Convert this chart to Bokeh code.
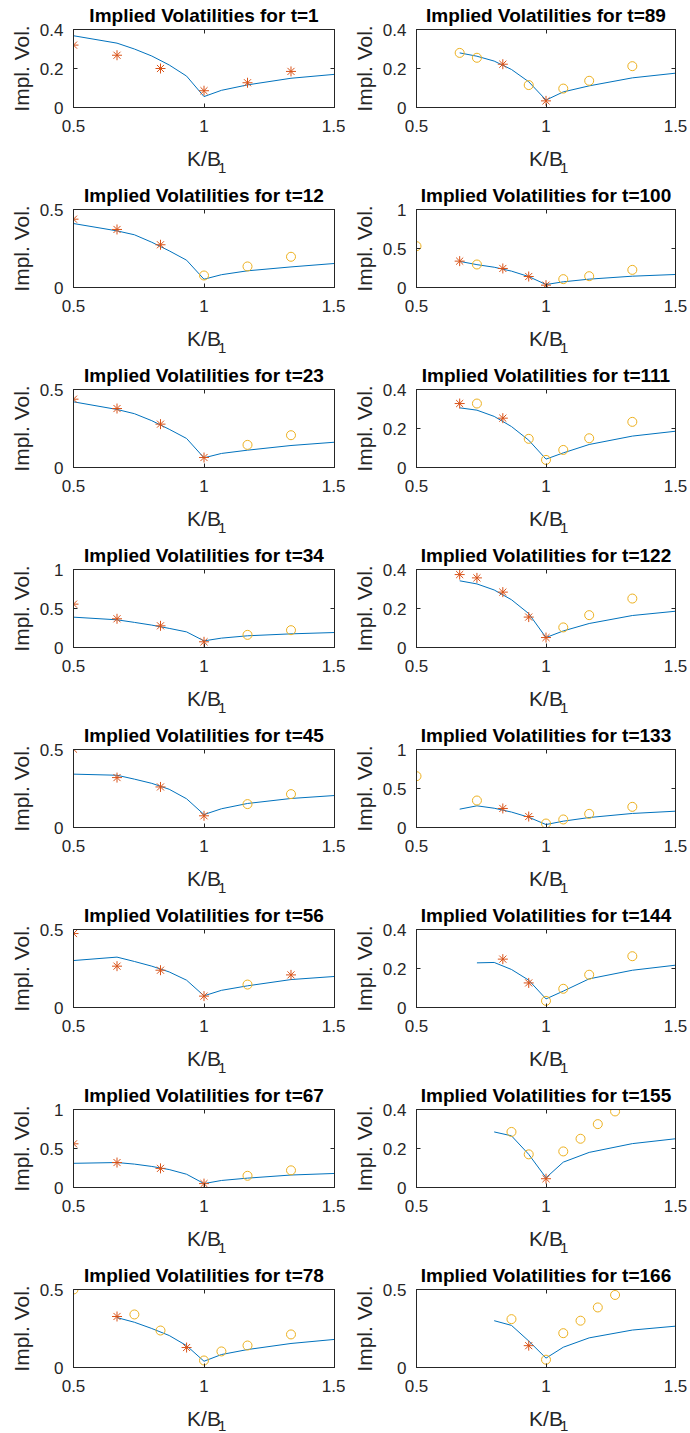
import numpy as np
from bokeh.plotting import figure
from bokeh.layouts import gridplot
from bokeh.models import FixedTicker, LinearAxis, Range1d, CustomJSTickFormatter, Title
from bokeh.embed import file_html
from bokeh.resources import INLINE

BLUE = "#0072BD"
ORANGE = "#D95319"
YELLOW = "#EDB120"
AXC = "#262626"
FONT = "Liberation Sans"

# model curve grid (K/B_1)
LX = [0.5, 0.6667, 0.7333, 0.8, 0.8667, 0.9333, 1.0, 1.0667, 1.1667, 1.3333, 1.5]
N = None

# ---- left column ----
t1_line = [0.368, 0.330, 0.300, 0.264, 0.218, 0.161, 0.056, 0.088, 0.116, 0.150, 0.170]
t1_star_x = [0.5, 0.6667, 0.8333, 1.0, 1.1667, 1.3333]
t1_star_y = [0.320, 0.268, 0.200, 0.086, 0.127, 0.185]
t1_circ_x = []
t1_circ_y = []

t12_line = [0.410, 0.363, 0.338, 0.290, 0.235, 0.175, 0.053, 0.082, 0.107, 0.132, 0.154]
t12_star_x = [0.5, 0.6667, 0.8333]
t12_star_y = [0.438, 0.372, 0.274]
t12_circ_x = [1.0, 1.1667, 1.3333]
t12_circ_y = [0.077, 0.135, 0.197]

t23_line = [0.421, 0.372, 0.345, 0.300, 0.245, 0.186, 0.062, 0.090, 0.111, 0.141, 0.162]
t23_star_x = [0.5, 0.6667, 0.8333, 1.0]
t23_star_y = [0.438, 0.378, 0.278, 0.064]
t23_circ_x = [1.1667, 1.3333]
t23_circ_y = [0.145, 0.207]

t34_line = [0.389, 0.355, 0.322, 0.287, 0.245, 0.200, 0.085, 0.120, 0.150, 0.175, 0.192]
t34_star_x = [0.5, 0.6667, 0.8333, 1.0]
t34_star_y = [0.556, 0.368, 0.278, 0.073]
t34_circ_x = [1.1667, 1.3333]
t34_circ_y = [0.162, 0.222]

t45_line = [0.342, 0.335, 0.310, 0.283, 0.245, 0.184, 0.083, 0.120, 0.154, 0.186, 0.205]
t45_star_x = [0.5, 0.6667, 0.8333, 1.0]
t45_star_y = [0.502, 0.320, 0.260, 0.075]
t45_circ_x = [1.1667, 1.3333]
t45_circ_y = [0.150, 0.214]

t56_line = [0.301, 0.323, 0.295, 0.265, 0.228, 0.175, 0.075, 0.110, 0.139, 0.179, 0.199]
t56_star_x = [0.5, 0.6667, 0.8333, 1.0, 1.3333]
t56_star_y = [0.474, 0.265, 0.239, 0.073, 0.209]
t56_circ_x = [1.1667]
t56_circ_y = [0.147]

t67_line = [0.310, 0.320, 0.300, 0.270, 0.230, 0.170, 0.050, 0.090, 0.120, 0.160, 0.180]
t67_star_x = [0.5, 0.6667, 0.8333, 1.0]
t67_star_y = [0.560, 0.320, 0.245, 0.050]
t67_circ_x = [1.1667, 1.3333]
t67_circ_y = [0.150, 0.220]

t78_line = [N, 0.320, 0.290, 0.250, 0.205, 0.140, 0.040, 0.083, 0.115, 0.154, 0.180]
t78_star_x = [0.6667, 0.9333]
t78_star_y = [0.327, 0.128]
t78_circ_x = [0.5, 0.7333, 0.8333, 1.0, 1.0667, 1.1667, 1.3333]
t78_circ_y = [0.500, 0.340, 0.237, 0.045, 0.103, 0.141, 0.212]

# ---- right column ----
t89_line = [N, 0.280, 0.263, 0.238, 0.195, 0.132, 0.038, 0.080, 0.111, 0.152, 0.176]
t89_star_x = [0.8333, 1.0]
t89_star_y = [0.222, 0.034]
t89_circ_x = [0.6667, 0.7333, 0.9333, 1.0667, 1.1667, 1.3333]
t89_circ_y = [0.280, 0.255, 0.115, 0.097, 0.137, 0.212]

t100_line = [N, 0.335, 0.293, 0.260, 0.210, 0.140, 0.038, 0.073, 0.107, 0.145, 0.167]
t100_star_x = [0.6667, 0.8333, 0.9333, 1.0]
t100_star_y = [0.338, 0.244, 0.141, 0.030]
t100_circ_x = [0.5, 0.7333, 1.0667, 1.1667, 1.3333]
t100_circ_y = [0.530, 0.295, 0.107, 0.145, 0.226]

t111_line = [N, 0.306, 0.294, 0.262, 0.210, 0.140, 0.043, 0.075, 0.118, 0.161, 0.186]
t111_star_x = [0.6667, 0.8333]
t111_star_y = [0.328, 0.253]
t111_circ_x = [0.7333, 0.9333, 1.0, 1.0667, 1.1667, 1.3333]
t111_circ_y = [0.328, 0.147, 0.039, 0.090, 0.150, 0.234]

t122_line = [N, 0.342, 0.326, 0.295, 0.245, 0.174, 0.051, 0.085, 0.123, 0.164, 0.186]
t122_star_x = [0.6667, 0.7333, 0.8333, 0.9333, 1.0]
t122_star_y = [0.374, 0.357, 0.284, 0.156, 0.051]
t122_circ_x = [1.0667, 1.1667, 1.3333]
t122_circ_y = [0.103, 0.166, 0.251]

t133_line = [N, 0.235, 0.278, 0.247, 0.198, 0.132, 0.038, 0.081, 0.128, 0.180, 0.209]
t133_star_x = [0.8333, 0.9333]
t133_star_y = [0.244, 0.141]
t133_circ_x = [0.5, 0.7333, 1.0, 1.0667, 1.1667, 1.3333]
t133_circ_y = [0.658, 0.346, 0.051, 0.103, 0.175, 0.265]

t144_line = [N, N, 0.229, 0.231, 0.195, 0.140, 0.044, 0.084, 0.147, 0.191, 0.217]
t144_star_x = [0.8333, 0.9333]
t144_star_y = [0.248, 0.126]
t144_circ_x = [1.0, 1.0667, 1.1667, 1.3333]
t144_circ_y = [0.034, 0.096, 0.168, 0.263]

t155_line = [N, N, N, 0.285, 0.265, 0.170, 0.050, 0.130, 0.180, 0.225, 0.250]
t155_star_x = [1.0]
t155_star_y = [0.045]
t155_circ_x = [0.8667, 0.9333, 1.0667, 1.1333, 1.2, 1.2667]
t155_circ_y = [0.285, 0.170, 0.185, 0.250, 0.325, 0.390]

t166_line = [N, N, N, 0.300, 0.270, 0.170, 0.060, 0.130, 0.190, 0.240, 0.265]
t166_star_x = [0.9333]
t166_star_y = [0.140]
t166_circ_x = [0.8667, 1.0, 1.0667, 1.1333, 1.2, 1.2667]
t166_circ_y = [0.310, 0.050, 0.220, 0.300, 0.385, 0.465]

T_ORDER = [1, 89, 12, 100, 23, 111, 34, 122, 45, 133, 56, 144, 67, 155, 78, 166]
Y_MAX = {1: 0.4, 89: 0.4, 12: 0.5, 100: 1.0, 23: 0.5, 111: 0.4, 34: 1.0, 122: 0.4,
         45: 0.5, 133: 1.0, 56: 0.5, 144: 0.4, 67: 1.0, 155: 0.4, 78: 0.5, 166: 0.5}
Y_TICKS = {0.4: [0, 0.2, 0.4], 0.5: [0, 0.5], 1.0: [0, 0.5, 1]}
X_TICKS = [0.5, 1, 1.5]

DATA = {
    1: (t1_line, t1_star_x, t1_star_y, t1_circ_x, t1_circ_y),
    12: (t12_line, t12_star_x, t12_star_y, t12_circ_x, t12_circ_y),
    23: (t23_line, t23_star_x, t23_star_y, t23_circ_x, t23_circ_y),
    34: (t34_line, t34_star_x, t34_star_y, t34_circ_x, t34_circ_y),
    45: (t45_line, t45_star_x, t45_star_y, t45_circ_x, t45_circ_y),
    56: (t56_line, t56_star_x, t56_star_y, t56_circ_x, t56_circ_y),
    67: (t67_line, t67_star_x, t67_star_y, t67_circ_x, t67_circ_y),
    78: (t78_line, t78_star_x, t78_star_y, t78_circ_x, t78_circ_y),
    89: (t89_line, t89_star_x, t89_star_y, t89_circ_x, t89_circ_y),
    100: (t100_line, t100_star_x, t100_star_y, t100_circ_x, t100_circ_y),
    111: (t111_line, t111_star_x, t111_star_y, t111_circ_x, t111_circ_y),
    122: (t122_line, t122_star_x, t122_star_y, t122_circ_x, t122_circ_y),
    133: (t133_line, t133_star_x, t133_star_y, t133_circ_x, t133_circ_y),
    144: (t144_line, t144_star_x, t144_star_y, t144_circ_x, t144_circ_y),
    155: (t155_line, t155_star_x, t155_star_y, t155_circ_x, t155_circ_y),
    166: (t166_line, t166_star_x, t166_star_y, t166_circ_x, t166_circ_y),
}

FMT = "return String(tick)"


def style_axis(ax, labels=True):
    ax.major_tick_in = 4
    ax.major_tick_out = 0
    ax.minor_tick_line_color = None
    ax.axis_line_color = AXC
    ax.major_tick_line_color = AXC
    ax.major_label_text_color = AXC
    ax.major_label_text_font = FONT
    if labels:
        ax.major_label_text_font_size = "17px"
    else:
        ax.major_label_text_font_size = "0px"
        ax.major_label_standoff = 0


def make_panel(idx, t):
    col = idx % 2
    last = idx >= 14
    ymax = Y_MAX[t]
    line_y, sx, sy, cx, cy = DATA[t]
    fw = 261 if col == 0 else 259
    p = figure(frame_width=fw, frame_height=78,
               x_range=Range1d(0.5, 1.5), y_range=Range1d(0, ymax),
               min_border_left=73 if col == 0 else 71,
               min_border_right=11 if col == 0 else 15,
               min_border_top=29, min_border_bottom=66 if last else 73,
               output_backend="svg", toolbar_location=None,
               title=f"Implied Volatilities for t={t}")
    p.background_fill_color = "white"
    p.border_fill_color = "white"
    p.outline_line_color = AXC
    p.grid.visible = False
    p.title.align = "center"
    p.title.vertical_align = "top"
    p.title.text_font = FONT
    p.title.text_font_size = "19px"
    p.title.text_font_style = "bold"
    p.title.text_color = "black"
    p.title.standoff = 4

    p.xaxis.ticker = FixedTicker(ticks=X_TICKS)
    p.yaxis.ticker = FixedTicker(ticks=Y_TICKS[ymax])
    p.xaxis.formatter = CustomJSTickFormatter(code=FMT)
    p.yaxis.formatter = CustomJSTickFormatter(code=FMT)
    for ax in (p.xaxis[0], p.yaxis[0]):
        style_axis(ax)
        ax.axis_label_text_font = FONT
        ax.axis_label_text_font_size = "21px"
        ax.axis_label_text_font_style = "normal"
        ax.axis_label_text_color = AXC
    p.xaxis.major_label_standoff = 12
    p.yaxis.major_label_standoff = 10
    p.xaxis.axis_label = "K/B"
    p.xaxis.axis_label_standoff = 12
    p.yaxis.axis_label = "Impl. Vol."
    p.yaxis.axis_label_standoff = 4

    top = LinearAxis(ticker=FixedTicker(ticks=X_TICKS),
                     formatter=CustomJSTickFormatter(code="return ''"))
    style_axis(top, labels=False)
    p.add_layout(top, "above")
    right = LinearAxis(ticker=FixedTicker(ticks=Y_TICKS[ymax]),
                       formatter=CustomJSTickFormatter(code="return ''"))
    style_axis(right, labels=False)
    p.add_layout(right, "right")

    # subscript of the x-axis label (K/B_1)
    sub = Title(text="1", align="left", offset=fw / 2 + 14, vertical_align="top",
                standoff=-24 if last else -20, text_font=FONT, text_font_size="15px",
                text_font_style="normal", text_color=AXC)
    p.add_layout(sub, "below")

    ly = np.array([np.nan if v is None else v for v in line_y], dtype=float)
    p.line(LX, ly, line_color=BLUE, line_width=1)
    if sx:
        p.scatter(sx, sy, marker="asterisk", size=10, line_color=ORANGE, line_width=1)
    if cx:
        p.scatter(cx, cy, marker="circle", size=9, fill_color=None,
                  line_color=YELLOW, line_width=1)
    return p


figs = [make_panel(i, t) for i, t in enumerate(T_ORDER)]
grid = gridplot(figs, ncols=2, toolbar_location=None)
open("out.html", "w").write(file_html(grid, INLINE))
